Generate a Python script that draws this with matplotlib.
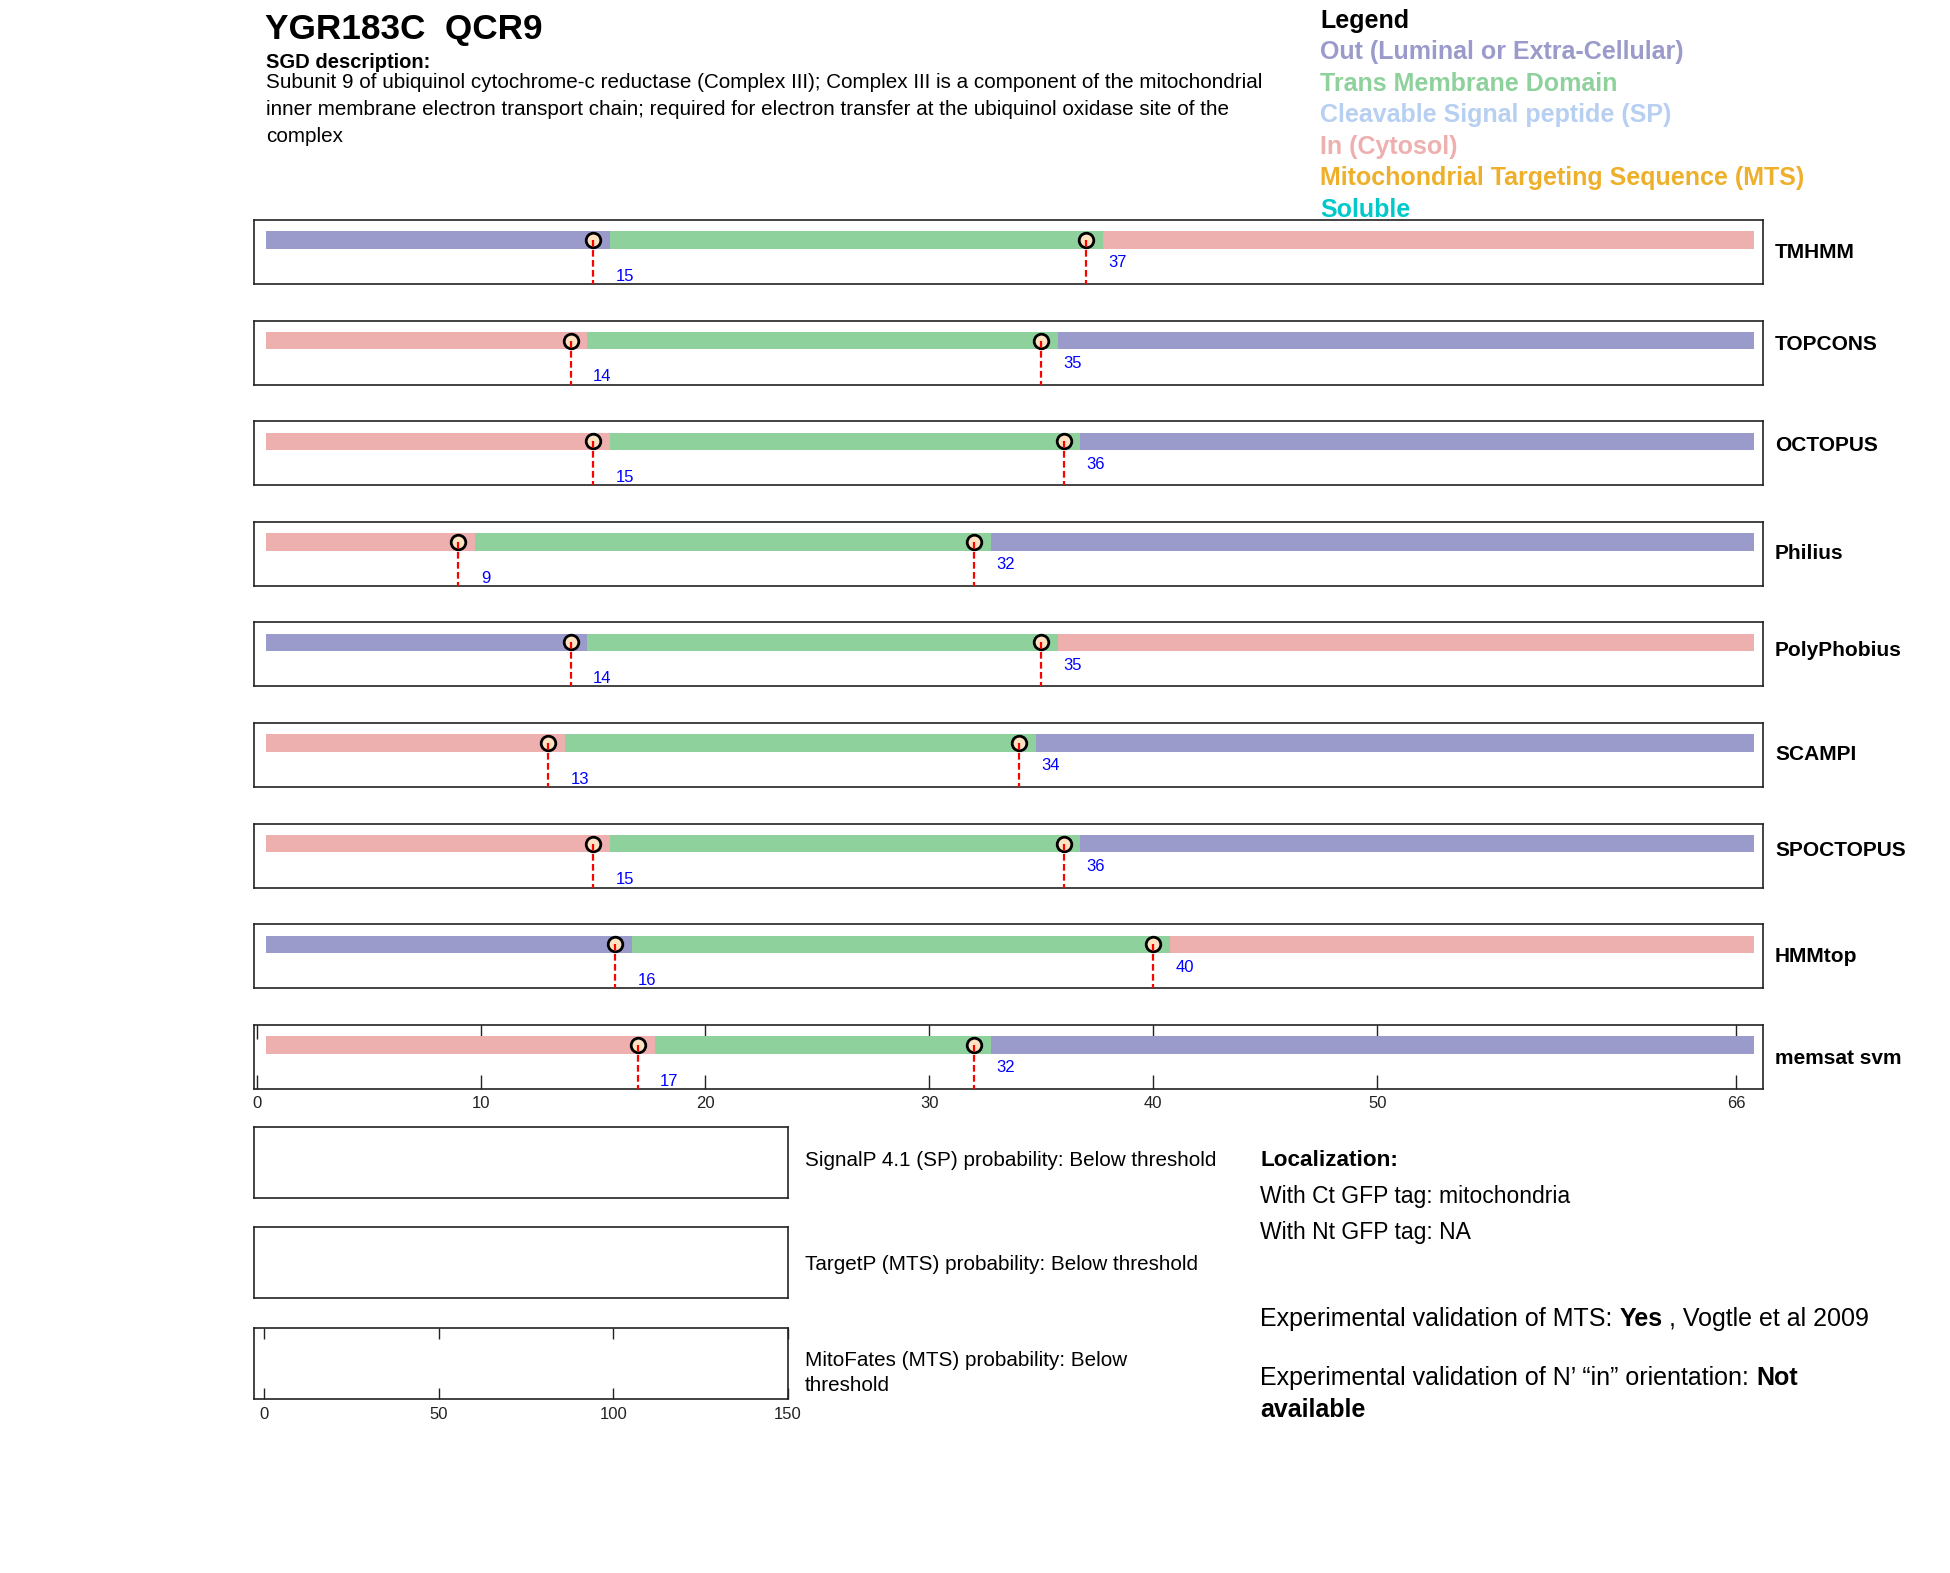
"""Topology summary for YGR183C / QCR9: TM predictions from nine tools plus SP/MTS boxes."""

import matplotlib
matplotlib.use("Agg")
import matplotlib.pyplot as plt

plt.rcParams["font.family"] = ["Liberation Sans", "DejaVu Sans"]

W, H = 1950, 1573

# --- data ---
methods = ["TMHMM", "TOPCONS", "OCTOPUS", "Philius", "PolyPhobius",
           "SCAMPI", "SPOCTOPUS", "HMMtop", "memsat svm"]
tm_start = [15, 14, 15, 9, 14, 13, 15, 16, 17]
tm_end = [37, 35, 36, 32, 35, 34, 36, 40, 32]
n_term = ["out", "in", "in", "in", "out", "in", "in", "out", "in"]
seq_len = 66
seq_ticks = [0, 10, 20, 30, 40, 50, 66]
prob_ticks = [0, 50, 100, 150]

prob_labels = ["SignalP 4.1 (SP) probability: Below threshold",
               "TargetP (MTS) probability: Below threshold",
               "MitoFates (MTS) probability: Below\nthreshold"]

legend_items = ["Out (Luminal or Extra-Cellular)", "Trans Membrane Domain",
                "Cleavable Signal peptide (SP)", "In (Cytosol)",
                "Mitochondrial Targeting Sequence (MTS)", "Soluble"]
legend_colors = ["#9a9acb", "#8fd19c", "#b7cff0", "#eeafaf", "#eeb02a", "#00c9c9"]

desc_lines = ["Subunit 9 of ubiquinol cytochrome-c reductase (Complex III); Complex III is a component of the mitochondrial",
              "inner membrane electron transport chain; required for electron transfer at the ubiquinol oxidase site of the",
              "complex"]

OUT_C, TM_C, IN_C = "#9a9acb", "#8fd19c", "#eeafaf"
# small vertical nudges of the method names (px), as placed in the reference
name_dy = [0, -8, -8, 0, -4, 0, -5, 0, 2]


def fx(x):
    return x / W


def fy(y):
    return 1 - y / H


fig = plt.figure(figsize=(W / 100, H / 100), dpi=100)
bg = fig.add_axes([0, 0, 1, 1])
bg.set_xlim(0, W); bg.set_ylim(H, 0); bg.axis("off")

# header
bg.text(265, 29, "YGR183C  QCR9", fontsize=25.3, fontweight="bold", va="center")
bg.text(266, 63, "SGD description:", fontsize=14.5, fontweight="bold", va="center")
for k, line in enumerate(desc_lines):
    bg.text(266, 83 + 26.7 * k, line, fontsize=14.9, va="center")

bg.text(1320, 21, "Legend", fontsize=18, fontweight="bold", va="center")
for k, (lab, c) in enumerate(zip(legend_items, legend_colors)):
    bg.text(1320, 52 + 31.6 * k, lab, fontsize=18, fontweight="bold", color=c, va="center")

# --- per-method topology panels ---
for i, name in enumerate(methods):
    top = 220 + 100.6 * i
    ax = fig.add_axes([fx(254), fy(top + 64), fx(1763) - fx(254), 64 / H])
    ax.set_xlim(-0.12, 67.2); ax.set_ylim(0, 1)
    s, e = tm_start[i], tm_end[i]
    first, last = (OUT_C, IN_C) if n_term[i] == "out" else (IN_C, OUT_C)
    edges = [0.4, s + 0.75, e + 0.75, seq_len + 0.8]
    for (a, b), c in zip(zip(edges[:-1], edges[1:]), [first, TM_C, last]):
        ax.barh(0.686, b - a, left=a, height=0.27, color=c, edgecolor="none", zorder=2)
    for pos, ly in zip([s, e], [0.12, 0.33]):
        ax.plot([pos], [0.686], "o", ms=10.5, mfc="#fde3c2", mec="black", mew=2, zorder=3)
        ax.plot([pos, pos], [0.686, 0], color="red", ls=(0, (3, 1.5)), lw=1.6, zorder=4)
        ax.text(pos + 1.0, ly, str(pos), color="blue", fontsize=12, va="center")
    for sp in ax.spines.values():
        sp.set_linewidth(1.2); sp.set_color("#222222")
    if i == len(methods) - 1:
        ax.set_xticks(seq_ticks)
        ax.tick_params(axis="x", direction="in", top=True, length=10, width=1,
                       labelsize=12, pad=5, colors="#222222")
        ax.set_yticks([])
    else:
        ax.set_xticks([]); ax.set_yticks([])
    bg.text(1775, top + 32 + name_dy[i], name, fontsize=15, fontweight="bold", va="center")

# --- probability boxes ---
for k, lab in enumerate(prob_labels):
    top = 1127 + 100.3 * k
    ax = fig.add_axes([fx(254), fy(top + 71), fx(788) - fx(254), 71 / H])
    ax.set_xlim(-3, 150); ax.set_ylim(0, 1)
    for sp in ax.spines.values():
        sp.set_linewidth(1.2); sp.set_color("#222222")
    ax.set_yticks([])
    if k == 2:
        ax.set_xticks(prob_ticks)
        ax.tick_params(axis="x", direction="in", top=True, length=8, width=1,
                       labelsize=12, pad=6, colors="#222222")
    else:
        ax.set_xticks([])
    yc = 1160 + 104.5 * k if k < 2 else 1373
    bg.text(805, yc, lab, fontsize=14.9, va="center", linespacing=1.45)

# --- localization notes ---
bg.text(1260, 1160, "Localization:", fontsize=16.2, fontweight="bold", va="center")
bg.text(1260, 1196, "With Ct GFP tag: mitochondria", fontsize=16.5, va="center")
bg.text(1260, 1233, "With Nt GFP tag: NA", fontsize=16.5, va="center")

t1 = bg.text(1260, 1319, "Experimental validation of MTS: ", fontsize=18, va="center")
t2 = bg.annotate("Yes", xy=(1, 0), xycoords=t1, fontsize=18, fontweight="bold", va="bottom")
bg.annotate(" , Vogtle et al 2009", xy=(1, 0), xycoords=t2, fontsize=18, va="bottom")

t3 = bg.text(1260, 1378, "Experimental validation of N\u2019 \u201cin\u201d orientation: ", fontsize=18, va="center")
bg.annotate("Not", xy=(1, 0), xycoords=t3, fontsize=18, fontweight="bold", va="bottom")
bg.text(1260, 1410, "available", fontsize=18, fontweight="bold", va="center")

fig.savefig("out.png", dpi=100)
